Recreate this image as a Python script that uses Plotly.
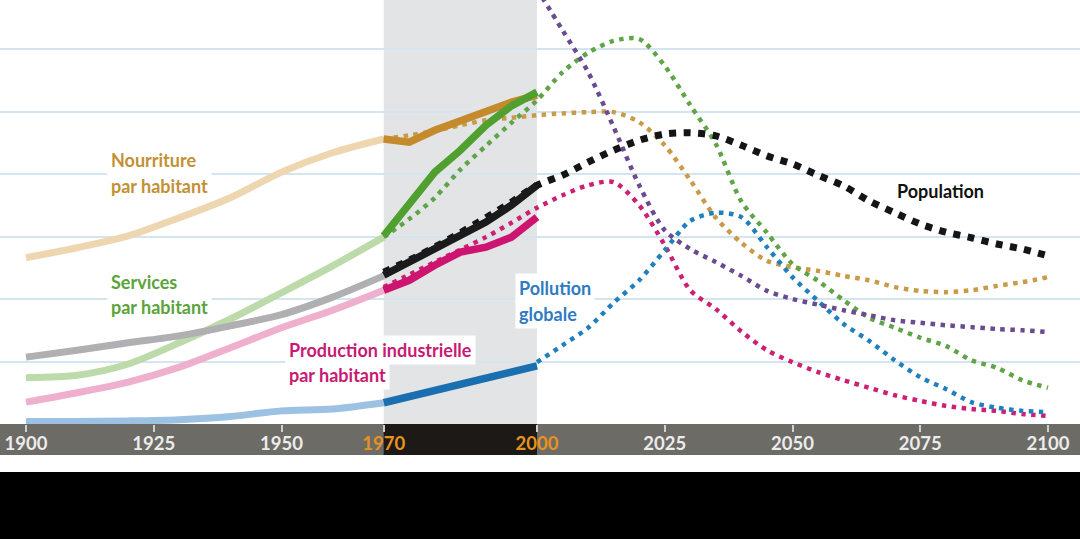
import plotly.graph_objects as go

# ---------------- data ----------------
hist_years = [1900, 1910, 1920, 1930, 1940, 1950, 1960, 1970]
food_hist = [2.66, 2.82, 3.01, 3.30, 3.62, 4.03, 4.34, 4.56]
services_hist = [0.74, 0.78, 0.96, 1.30, 1.68, 2.10, 2.53, 2.99]
pop_hist = [1.07, 1.18, 1.30, 1.41, 1.57, 1.75, 2.03, 2.37]
ind_hist = [0.35, 0.50, 0.67, 0.91, 1.22, 1.54, 1.82, 2.14]
poll_hist = [0.04, 0.04, 0.05, 0.07, 0.12, 0.21, 0.24, 0.34]

obs_years = [1970, 1975, 1980, 1985, 1990, 1995, 2000]
food_obs = [4.56, 4.51, 4.70, 4.86, 5.02, 5.15, 5.26]
services_obs = [3.01, 3.50, 4.03, 4.38, 4.78, 5.09, 5.31]
pop_obs = [2.38, 2.59, 2.78, 3.01, 3.23, 3.50, 3.82]
ind_obs = [2.14, 2.30, 2.54, 2.75, 2.83, 2.99, 3.31]
poll_obs = [0.34, 0.44, 0.54, 0.64, 0.74, 0.83, 0.93]

model_years = [1970, 1975, 1980, 1985, 1990, 1995, 2000, 2005, 2010, 2015, 2020,
               2025, 2030, 2035, 2040, 2045, 2050, 2055, 2060, 2065, 2070,
               2075, 2080, 2085, 2090, 2095, 2100]
food_model = [4.56, 4.62, 4.69, 4.78, 4.86, 4.90, 4.94, 4.97, 4.99, 4.99, 4.83,
              4.46, 3.90, 3.30, 2.90, 2.61, 2.51, 2.45, 2.37, 2.30, 2.19,
              2.13, 2.11, 2.14, 2.21, 2.27, 2.35]
services_model = [2.99, 3.28, 3.62, 4.07, 4.45, 4.82, 5.18, 5.63, 5.94, 6.13, 6.16,
                  5.73, 5.10, 4.48, 3.56, 3.06, 2.56, 2.29, 1.98, 1.70, 1.54,
                  1.38, 1.25, 1.02, 0.90, 0.70, 0.58]
pop_model = [2.43, 2.62, 2.83, 3.06, 3.30, 3.55, 3.82, 3.98, 4.19, 4.38, 4.54,
             4.64, 4.66, 4.61, 4.46, 4.29, 4.16, 3.98, 3.81, 3.57, 3.38,
             3.20, 3.07, 2.98, 2.88, 2.80, 2.69]
ind_model = [2.19, 2.39, 2.59, 2.79, 2.99, 3.22, 3.46, 3.66, 3.82, 3.87, 3.50,
             2.86, 2.14, 1.84, 1.48, 1.18, 0.99, 0.83, 0.70, 0.58, 0.46,
             0.37, 0.29, 0.24, 0.21, 0.16, 0.13]
poll_model = [None, None, None, None, None, None, 0.99, 1.26, 1.54, 1.94, 2.30,
              2.78, 3.25, 3.38, 3.31, 2.83, 2.35, 1.97, 1.60, 1.33, 1.02,
              0.75, 0.56, 0.35, 0.26, 0.21, 0.19]
res_model = [None, None, None, None, None, None, 6.96, 6.30, 5.63, 4.75, 3.82,
             3.10, 2.80, 2.59, 2.37, 2.13, 2.00, 1.91, 1.82, 1.74, 1.66,
             1.62, 1.58, 1.55, 1.52, 1.50, 1.47]

tick_years = [1900, 1925, 1950, 1970, 2000, 2025, 2050, 2075, 2100]
tick_labels = ["1900", "1925", "1950", "1970", "2000", "2025", "2050", "2075", "2100"]
highlight_ticks = ["1970", "2000"]

# label lines: text, x (year), y (value), colour
labels = [
    ("Nourriture", 1915.9, 4.22, "#c39034"),
    ("par habitant", 1915.9, 3.81, "#c39034"),
    ("Services", 1915.9, 2.27, "#5ba33b"),
    ("par habitant", 1915.9, 1.87, "#5ba33b"),
    ("Production industrielle", 1950.7, 1.18, "#c81a73"),
    ("par habitant", 1950.7, 0.78, "#c81a73"),
    ("Pollution", 1995.7, 2.18, "#2f7bc1"),
    ("globale", 1995.7, 1.76, "#2f7bc1"),
    ("Population", 2069.7, 3.73, "#111111"),
]

# ---------------- styles ----------------
W, H = 1080, 539
PLOT_H = 424
BOTTOM = H - PLOT_H
PX_PER_YEAR = 5.11
X0_PX = 26
xrange = [1900 - X0_PX / PX_PER_YEAR, 1900 + (W - X0_PX) / PX_PER_YEAR]
yrange = [0, PLOT_H / 62.5]

fig = go.Figure()

def add_line(x, y, color, width, dash=None, shape="spline", smoothing=0.8):
    line = dict(color=color, width=width, shape=shape)
    if shape == "spline":
        line["smoothing"] = smoothing
    if dash:
        line["dash"] = dash
    fig.add_trace(go.Scatter(x=x, y=y, mode="lines", line=line,
                             hoverinfo="skip", showlegend=False, connectgaps=False))

# pale historical lines
add_line(hist_years, poll_hist, "#9dc1e3", 7)
add_line(hist_years, ind_hist, "#eeb0cd", 7)
add_line(hist_years, services_hist, "#bddbaa", 7)
add_line(hist_years, pop_hist, "#b0b0b2", 7)
add_line(hist_years, food_hist, "#eed6b0", 7)

# model (dotted) lines
dot_small = "4.5px,5.5px"
add_line(model_years, food_model, "#c99a47", 4.5, dot_small)
add_line(model_years, services_model, "#5fa447", 4.5, dot_small)
add_line(model_years, ind_model, "#cf1f74", 4.5, dot_small)
add_line(model_years, poll_model, "#2080bd", 4.5, dot_small)
add_line(model_years, res_model, "#6a4a90", 4.5, dot_small)
add_line(model_years, pop_model, "#151515", 7, "7px,7.5px")

# observed 1970-2000 (saturated)
add_line(obs_years, food_obs, "#c48a2c", 7.5, shape="linear")
add_line(obs_years, services_obs, "#4fa02f", 7.5, shape="linear")
add_line(obs_years, pop_obs, "#1b1b1b", 7.5, shape="linear")
add_line(obs_years, ind_obs, "#cc1470", 7.5, shape="linear")
add_line(obs_years, poll_obs, "#1a6fb0", 7.5, shape="linear")

shapes = [
    # grey highlighted period
    dict(type="rect", xref="x", yref="paper", x0=1970, x1=2000, y0=0, y1=1,
         fillcolor="#e3e4e6", line=dict(width=0), layer="between"),
    # axis bar
    dict(type="rect", xref="paper", yref="paper", x0=0, x1=1,
         y0=-31 / PLOT_H, y1=0, fillcolor="#6c6b66", line=dict(width=0), layer="below"),
    dict(type="rect", xref="x", yref="paper", x0=1970, x1=2000,
         y0=-31 / PLOT_H, y1=0, fillcolor="#1d1916", line=dict(width=0), layer="below"),
    # black footer
    dict(type="rect", xref="paper", yref="paper", x0=0, x1=1,
         y0=-BOTTOM / PLOT_H, y1=-48 / PLOT_H, fillcolor="#000000", line=dict(width=0), layer="below"),
]

annotations = []
for text, x, y, color in labels:
    annotations.append(dict(
        text=text, x=x, y=y, xref="x", yref="y", xanchor="left", yanchor="middle",
        align="left", showarrow=False, bgcolor="#ffffff", borderpad=3,
        font=dict(family="Lato", size=18, color=color, weight="bold"),
    ))

ticktext = [f'<span style="color:#e8931f">{t}</span>' if t in highlight_ticks else t
            for t in tick_labels]

fig.update_layout(
    width=W, height=H,
    margin=dict(l=0, r=0, t=0, b=BOTTOM, pad=0),
    paper_bgcolor="#ffffff", plot_bgcolor="#ffffff",
    shapes=shapes, annotations=annotations,
    xaxis=dict(range=xrange, tickvals=tick_years, ticktext=ticktext,
               ticks="outside", ticklen=7, tickwidth=1.5, tickcolor="#d0d0d0",
               ticklabelstandoff=-4,
               showgrid=False, zeroline=False, showline=False,
               tickfont=dict(family="Lato", size=18.5, color="#ececec", weight="bold"),
               fixedrange=True),
    yaxis=dict(range=yrange, tickvals=[1, 2, 3, 4, 5, 6], showticklabels=False,
               showgrid=True, gridcolor="#d5e5ef", gridwidth=1.5,
               zeroline=False, showline=False, ticks="", fixedrange=True),
    showlegend=False,
)

fig.write_html("out.html")
